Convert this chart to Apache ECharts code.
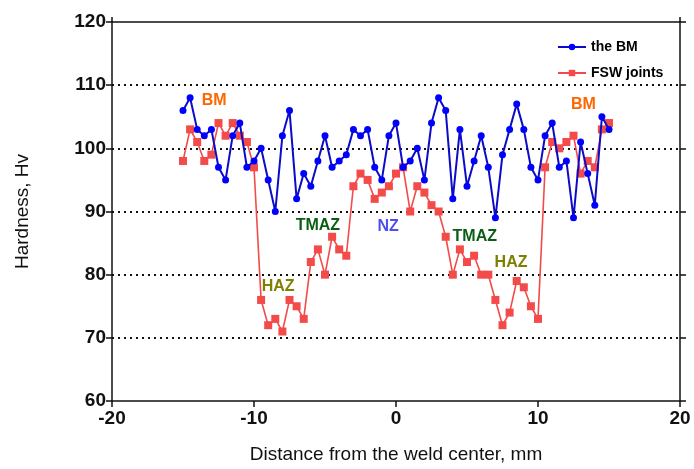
<!DOCTYPE html>
<html>
<head>
<meta charset="utf-8">
<script src="https://cdn.jsdelivr.net/npm/echarts@6/dist/echarts.min.js"></script>
<style>
  html, body { margin: 0; padding: 0; background: #fff; }
  #chart { width: 694px; height: 469px; }
</style>
</head>
<body>
<div id="chart"></div>
<script>
// distance from weld center, mm
const positions = [];
for (let i = 0; i <= 60; i++) positions.push(-15 + i * 0.5);

const baseMetal = [
  106, 108, 103, 102, 103, 97, 95, 102, 104, 97, 98, 100, 95, 90, 102, 106,
  92, 96, 94, 98, 102, 97, 98, 99, 103, 102, 103, 97, 95, 102, 104, 97,
  98, 100, 95, 104, 108, 106, 92, 103, 94, 98, 102, 97, 89, 99, 103, 107,
  103, 97, 95, 102, 104, 97, 98, 89, 101, 96, 91, 105, 103
];

const fswJoints = [
  98, 103, 101, 98, 99, 104, 102, 104, 102, 101, 97, 76, 72, 73, 71, 76,
  75, 73, 82, 84, 80, 86, 84, 83, 94, 96, 95, 92, 93, 94, 96, 97,
  90, 94, 93, 91, 90, 86, 80, 84, 82, 83, 80, 80, 76, 72, 74, 79,
  78, 75, 73, 97, 101, 100, 101, 102, 96, 98, 97, 103, 104
];

const zoneNames = ['BM', 'HAZ', 'TMAZ', 'NZ', 'TMAZ', 'HAZ', 'BM'];
const zoneX = [-12.8, -8.3, -5.5, -0.55, 5.55, 8.1, 13.2];
const zoneY = [107.5, 78.1, 87.7, 87.6, 86.1, 81.9, 107.0];
const zoneColors = ['#ff6600', '#7f7f00', '#0a5e14', '#4f4ff0', '#0a5e14', '#7f7f00', '#ff6600'];

const font = '"Liberation Sans", Arial, sans-serif';

const chart = echarts.init(document.getElementById('chart'));

chart.setOption({
  animation: false,
  backgroundColor: '#fff',
  grid: { left: 112, right: 14, top: 22, bottom: 68, outerBoundsMode: 'none' },
  legend: {
    orient: 'vertical',
    left: 552,
    top: 35,
    itemWidth: 28,
    itemHeight: 8,
    itemGap: 12,
    textStyle: { fontFamily: font, fontWeight: 'bold', fontSize: 14, color: '#000' },
    data: ['the BM', 'FSW joints']
  },
  xAxis: [
    {
      type: 'value',
      min: -20,
      max: 20,
      interval: 10,
      name: 'Distance from the weld center, mm',
      nameLocation: 'middle',
      nameGap: 44,
      nameTextStyle: { fontFamily: font, fontSize: 19, color: '#111' },
      axisLine: { onZero: false, lineStyle: { color: '#111', width: 1.5 } },
      axisTick: { show: true, length: 6, lineStyle: { color: '#111', width: 1.5 } },
      axisLabel: { fontFamily: font, fontWeight: 'bold', fontSize: 19, color: '#111', margin: 8 },
      splitLine: { show: false }
    },
    {
      type: 'value',
      position: 'top',
      min: -20,
      max: 20,
      interval: 40,
      axisLine: { onZero: false, lineStyle: { color: '#111', width: 1.5 } },
      axisTick: { show: true, length: 5, lineStyle: { color: '#111', width: 1.5 } },
      axisLabel: { show: false },
      splitLine: { show: false }
    }
  ],
  yAxis: [
    {
      type: 'value',
      min: 60,
      max: 120,
      interval: 10,
      name: 'Hardness, Hv',
      nameLocation: 'middle',
      nameGap: 80,
      nameTextStyle: { fontFamily: font, fontSize: 19, color: '#111' },
      axisLine: { onZero: false, lineStyle: { color: '#111', width: 1.5 } },
      axisTick: { show: true, length: 6, lineStyle: { color: '#111', width: 1.5 } },
      axisLabel: { fontFamily: font, fontWeight: 'bold', fontSize: 19, color: '#111', margin: 6 },
      splitLine: {
        show: true,
        showMinLine: false,
        showMaxLine: false,
        lineStyle: { color: '#111', width: 2, type: [2, 4] }
      }
    },
    {
      type: 'value',
      position: 'right',
      min: 60,
      max: 120,
      interval: 10,
      axisLine: { show: true, onZero: false, lineStyle: { color: '#111', width: 1.5 } },
      axisTick: { show: true, length: 6, lineStyle: { color: '#111', width: 1.5 } },
      axisLabel: { show: false },
      splitLine: { show: false }
    }
  ],
  series: [
    {
      name: 'the BM',
      type: 'line',
      data: positions.map((x, i) => [x, baseMetal[i]]),
      symbol: 'circle',
      symbolSize: 7,
      z: 3,
      lineStyle: { color: '#0c0cc8', width: 2 },
      itemStyle: { color: '#0000ff', borderWidth: 0 }
    },
    {
      name: 'FSW joints',
      type: 'line',
      data: positions.map((x, i) => [x, fswJoints[i]]),
      symbol: 'rect',
      symbolSize: 8,
      z: 2,
      lineStyle: { color: '#f34a4a', width: 1.6 },
      itemStyle: { color: '#f34a4a', borderWidth: 0 }
    },
    {
      name: 'zones',
      type: 'scatter',
      symbolSize: 0,
      silent: true,
      z: 4,
      itemStyle: { opacity: 1 },
      data: zoneNames.map((n, i) => ({
        value: [zoneX[i], zoneY[i]],
        name: n,
        label: { color: zoneColors[i] }
      })),
      label: {
        show: true,
        position: 'inside',
        formatter: p => p.name,
        fontFamily: font,
        fontWeight: 'bold',
        fontSize: 16
      }
    }
  ]
});
</script>
</body>
</html>
